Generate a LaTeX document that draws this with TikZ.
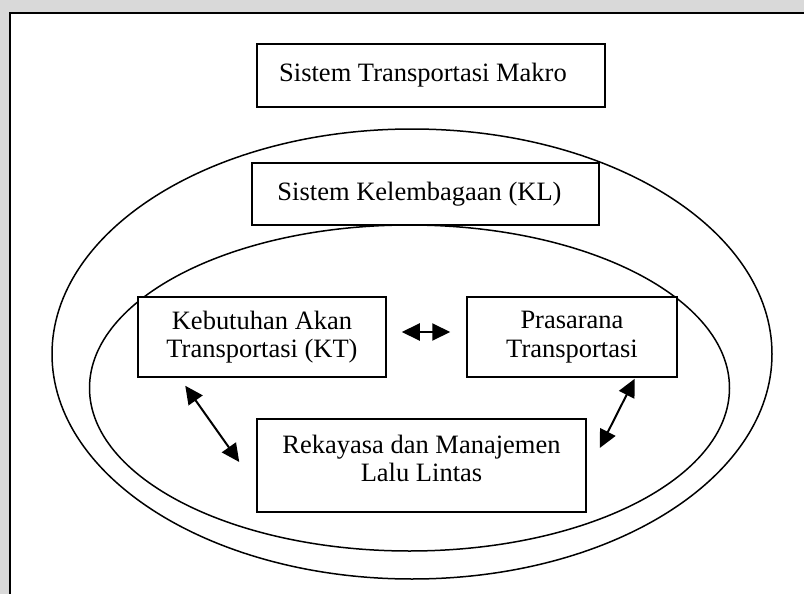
\documentclass[tikz,border=0pt]{standalone}
\usepackage{fontspec}
\setmainfont{Liberation Serif}
\usetikzlibrary{arrows.meta}
\begin{document}
\begin{tikzpicture}[
		x=0.5pt, y=-0.5pt,
		every node/.style={draw, fill=white, line width=0.75pt, align=center, inner sep=0pt, font=\fontsize{13.25}{14.2}\selectfont},
		link/.style={{Triangle[length=9pt,width=8.5pt]}-{Triangle[length=9pt,width=8.5pt]}, line width=1pt}
		]
		\useasboundingbox (0,0) rectangle (804,594);
		% Background and frame
		\fill[black!15] (0,0) rectangle (804,594);
		\fill[white] (10,12.7) rectangle (804,594);
		\draw[line width=1pt] (10,594) -- (10,12.7) -- (804,12.7);
		
		% Ellipses
		\draw[line width=0.75pt] (412,354) ellipse [x radius=180pt, y radius=112.5pt];
		\draw[line width=0.75pt] (409.5,388) ellipse [x radius=160pt, y radius=81.5pt];
		
		% Boxes
		\node[minimum width=174pt, minimum height=31.5pt] (makro) at (431,75.5) {Sistem Transportasi Makro\hspace*{8pt}};
		\node[minimum width=173.5pt, minimum height=31pt] (kl) at (425.5,194) {Sistem Kelembagaan (KL)\hspace*{6pt}};
		\node[minimum width=124pt, minimum height=40pt] (kt) at (262,337) {Kebutuhan Akan\\Transportasi (KT)};
		\node[minimum width=105pt, minimum height=40pt] (prasarana) at (572,337) {Prasarana\\Transportasi};
		\node[minimum width=164.5pt, minimum height=46.5pt] (rekayasa) at (421.5,465.5) {Rekayasa dan Manajemen\\Lalu Lintas\\[-7pt]\mbox{}};
		
		% Arrows
		\draw[link] ([shift={(15,-5)}]kt.east) -- ([shift={(-16,-5)}]prasarana.west);
		\draw[link] ([shift={(48,8)}]kt.south west) -- ([shift={(-17,-3.5)}]rekayasa.west);
		\draw[link] ([shift={(-43,1)}]prasarana.south east) -- ([shift={(13,-17.5)}]rekayasa.east);
	\end{tikzpicture}
\end{document}
